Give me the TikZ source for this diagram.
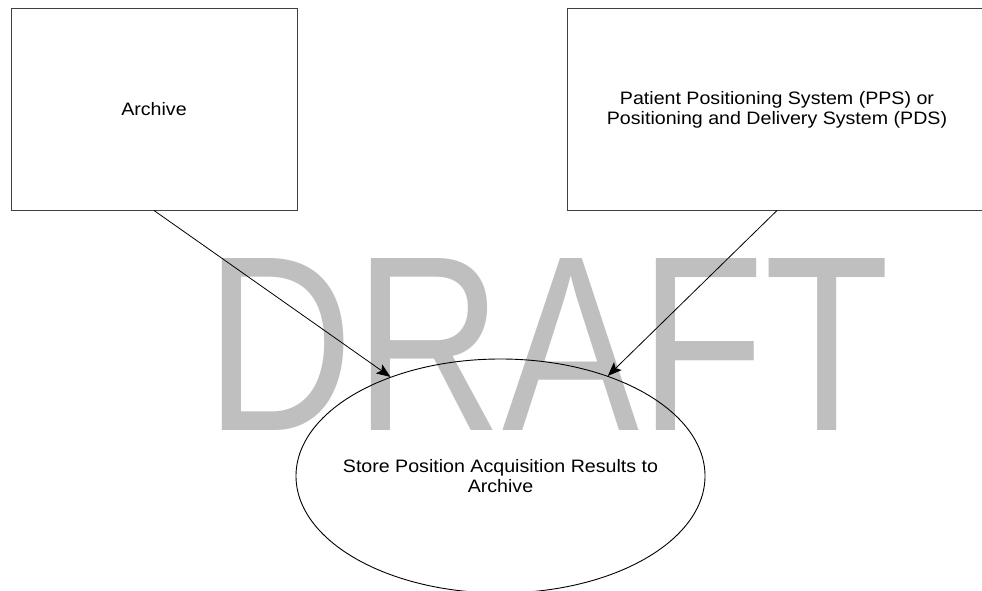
\documentclass[tikz,border=0pt]{standalone}
\usepackage{fontspec}
\setmainfont[FakeStretch=1.09]{Liberation Sans}
\newfontfamily\wmfont{Liberation Sans}
\usetikzlibrary{shapes.geometric,arrows.meta}

\tikzset{
  entity/.style={draw=black!75, line width=1pt, inner sep=0pt, align=center,
                 font=\fontsize{18}{20}\selectfont},
  usecase/.style={draw=black, line width=0.9pt, ellipse, inner sep=0pt},
  caption/.style={inner sep=0pt, align=center, font=\fontsize{18}{20}\selectfont},
  flow/.style={draw=black, line width=0.8pt,
               -{Stealth[length=14pt,width=11pt,inset=3pt]}},
  watermark/.style={text=black!25, inner sep=0pt}
}

\begin{document}
\begin{tikzpicture}[x=1pt,y=-1pt]
  \useasboundingbox (0,0) rectangle (982,591);
  \clip (0,0) rectangle (982,591);

  % watermark behind everything
  \node[watermark] (wm) at (548,344)
    {\resizebox{684pt}{172pt}{\wmfont\fontsize{100}{100}\selectfont DRAFT}};

  % actors
  \node[entity, minimum width=286pt, minimum height=201pt] (archive) at (154,109.5) {Archive};
  \node[entity, minimum width=420pt, minimum height=201pt] (pps) at (777,109.5)
    {Patient Positioning System (PPS) or\\Positioning and Delivery System (PDS)};

  % use case: outline and its caption
  \node[usecase, minimum width=409pt, minimum height=234pt] (store) at (500.5,476) {};
  \node[caption] (storetext) at (store.center)
    {Store Position Acquisition Results to\\Archive};

  % associations
  \draw[flow] (archive.south) -- (store.138);
  \draw[flow] (pps.south) -- (store.43);
\end{tikzpicture}
\end{document}
